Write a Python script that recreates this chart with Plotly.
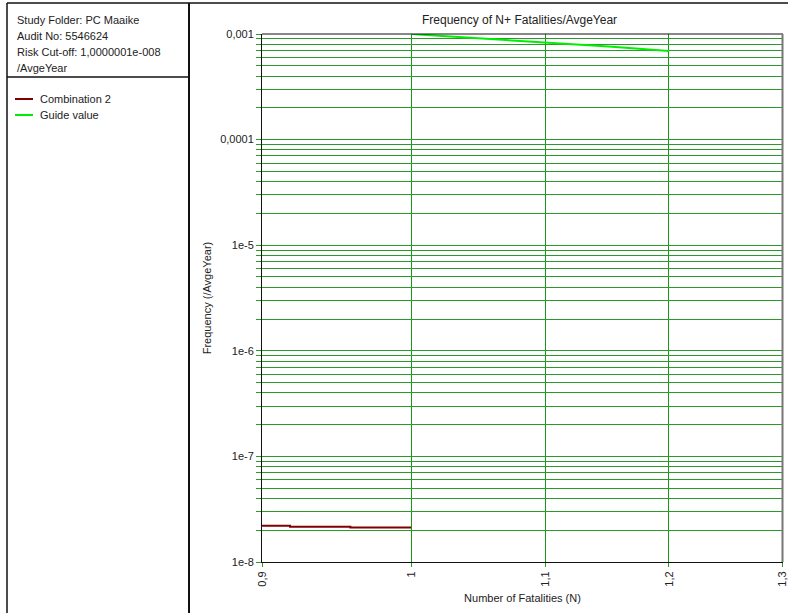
import plotly.graph_objects as go

# ---- data ----
combo_n = [0.9, 0.918, 0.958, 1.0]
combo_f = [2.2e-8, 2.16e-8, 2.12e-8, 2.12e-8]
guide_n = [1.0, 1.05, 1.1, 1.15, 1.2]
guide_f = [1.0e-3, 9.1e-4, 8.3e-4, 7.6e-4, 6.9e-4]
x_tickvals = [0.9, 1.0, 1.1, 1.2, 1.3]
x_ticktext = ["0,9", "1", "1,1", "1,2", "1,3"]
y_decades = [-8, -7, -6, -5, -4, -3]
y_decade_labels = ["1e-8", "1e-7", "1e-6", "1e-5", "0,0001", "0,001"]
info_lines = ["Study Folder: PC Maaike", "Audit No: 5546624",
              "Risk Cut-off: 1,0000001e-008", "/AvgeYear"]
series_names = ["Combination 2", "Guide value"]
series_colors = ["#800000", "#00ee00"]

# y ticks: every 1..9 per decade, label only decades
y_tickvals, y_ticktext = [], []
for i, e in enumerate(y_decades):
    for k in range(1, 10):
        if e == -3 and k > 1:
            break
        y_tickvals.append(k * 10.0 ** e)
        y_ticktext.append(y_decade_labels[i] if k == 1 else "")

W, H = 788, 613
L, R, T, B = 262, 783, 34, 562

def px(x):
    return (x - L) / (R - L)

def py(y):
    return (B - y) / (B - T)

fig = go.Figure()
fig.add_trace(go.Scatter(x=combo_n, y=combo_f, mode="lines", line_shape="hv",
                         name=series_names[0], line=dict(color=series_colors[0], width=2),
                         showlegend=False))
fig.add_trace(go.Scatter(x=guide_n, y=guide_f, mode="lines",
                         name=series_names[1], line=dict(color=series_colors[1], width=2),
                         showlegend=False))

grid_c = "#2a9a2a"
font_fam = "Liberation Sans, Arial, sans-serif"

fig.update_layout(
    width=W, height=H,
    margin=dict(l=L, r=W - R, t=T, b=H - B, pad=0, autoexpand=False),
    paper_bgcolor="white", plot_bgcolor="white",
    font=dict(family=font_fam, size=11, color="#222"),
    showlegend=False,
    xaxis=dict(type="log", range=[-0.04577, 0.1142], automargin=False,
               tickvals=x_tickvals, ticktext=x_ticktext, tickangle=-90,
               ticks="outside", ticklen=4, tickcolor=grid_c,
               showgrid=True, gridcolor="#1a961a", gridwidth=1,
               showline=True, linecolor="#111", linewidth=1, mirror=False,
               zeroline=False, tickfont=dict(size=11, color="#222"),
               title=dict(text="Number of Fatalities (N)", font=dict(size=11), standoff=8)),
    yaxis=dict(type="log", range=[-8, -3], automargin=False,
               tickvals=y_tickvals, ticktext=y_ticktext,
               ticks="outside", ticklen=5, tickcolor=grid_c,
               showgrid=True, gridcolor=grid_c, gridwidth=1,
               showline=True, linecolor="#111", linewidth=1, mirror=False,
               zeroline=False, tickfont=dict(size=11, color="#222"),
               title=dict(text="Frequency (/AvgeYear)", font=dict(size=11), standoff=6)),
)

shapes = []
# top border of plot area (black) and right border (gray)
shapes.append(dict(type="line", xref="paper", yref="paper", x0=0, x1=1, y0=1, y1=1,
                   line=dict(color="#111", width=1)))
shapes.append(dict(type="line", xref="paper", yref="paper", x0=px(782.5), x1=px(782.5), y0=0, y1=1,
                   line=dict(color="#777", width=2)))
# outer frame lines
shapes.append(dict(type="line", xref="paper", yref="paper", x0=px(7), x1=px(788), y0=py(3), y1=py(3),
                   line=dict(color="#111", width=1.5)))
shapes.append(dict(type="line", xref="paper", yref="paper", x0=px(7), x1=px(7), y0=py(3), y1=py(613),
                   line=dict(color="#111", width=1.5)))
shapes.append(dict(type="line", xref="paper", yref="paper", x0=px(189), x1=px(189), y0=py(3), y1=py(613),
                   line=dict(color="#111", width=2)))
shapes.append(dict(type="line", xref="paper", yref="paper", x0=px(7), x1=px(189), y0=py(77), y1=py(77),
                   line=dict(color="#111", width=1.5)))
# legend samples
for i, c in enumerate(series_colors):
    yy = 99 + 16 * i
    shapes.append(dict(type="line", xref="paper", yref="paper", x0=px(15), x1=px(33),
                       y0=py(yy), y1=py(yy), line=dict(color=c, width=2)))

annotations = []
annotations.append(dict(text="Frequency of N+ Fatalities/AvgeYear", xref="paper", yref="paper",
                        x=px(519), y=py(20), showarrow=False, xanchor="center", yanchor="middle",
                        font=dict(size=12, color="#222")))
for i, t in enumerate(info_lines):
    annotations.append(dict(text=t, xref="paper", yref="paper", x=px(15), y=py(20 + 16 * i),
                            showarrow=False, xanchor="left", yanchor="middle",
                            font=dict(size=11, color="#222")))
for i, n in enumerate(series_names):
    annotations.append(dict(text=n, xref="paper", yref="paper", x=px(38), y=py(99 + 16 * i),
                            showarrow=False, xanchor="left", yanchor="middle",
                            font=dict(size=11, color="#222")))

fig.update_layout(shapes=shapes, annotations=annotations)
fig.write_html("out.html", config={"displayModeBar": False},
               post_script="document.body.style.margin='0';document.body.style.overflow='hidden';")
